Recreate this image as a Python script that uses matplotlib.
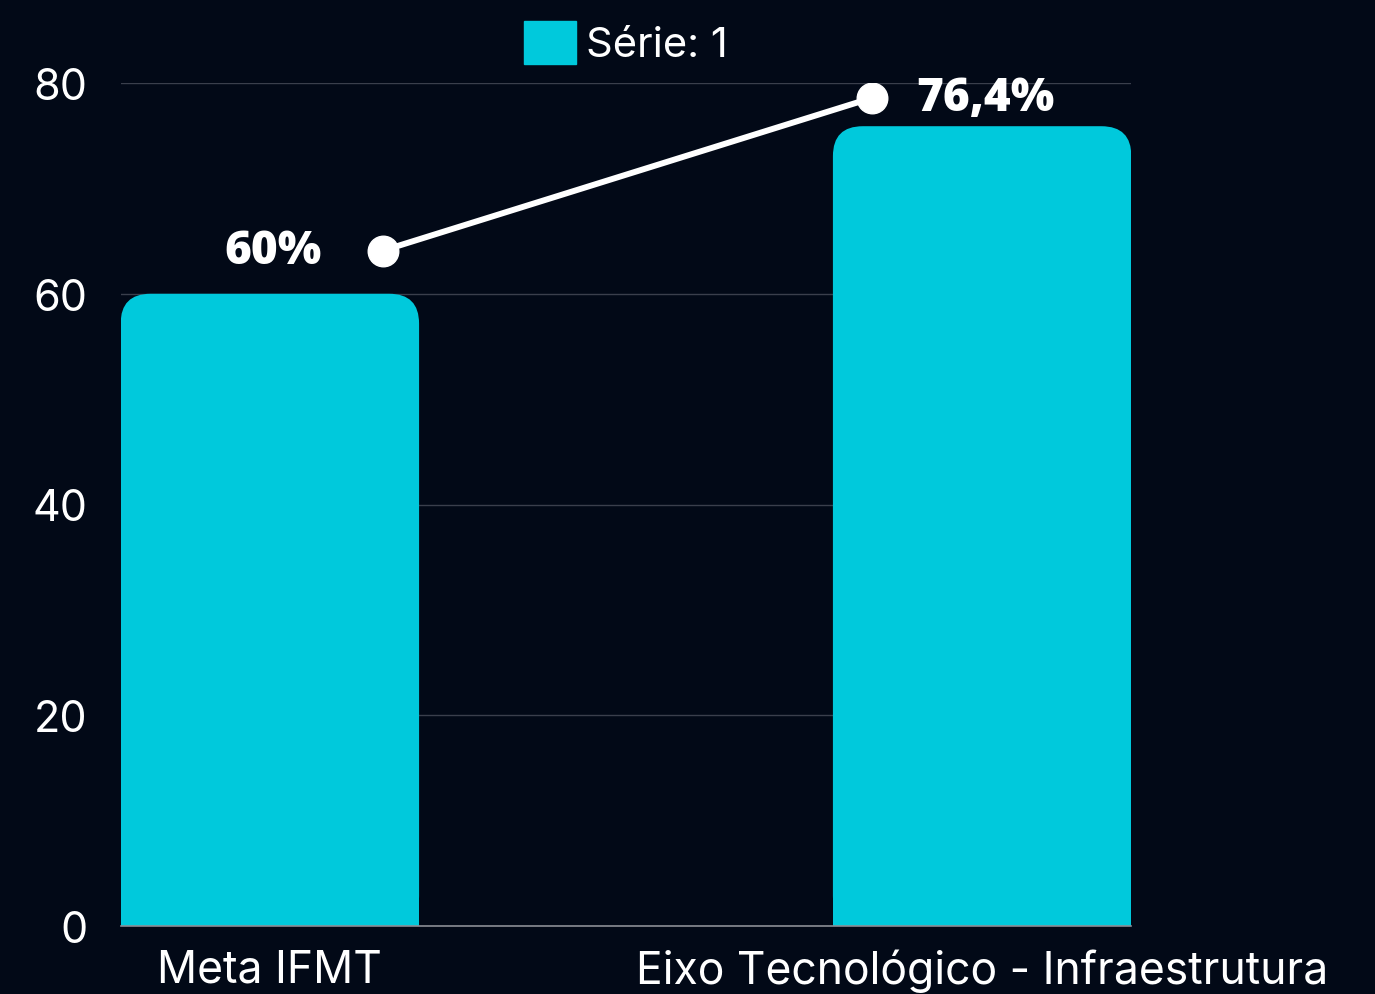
import matplotlib
matplotlib.use("Agg")
from matplotlib import pyplot as plt
from matplotlib.patches import FancyBboxPatch, Rectangle, Patch

categories = ["Meta IFMT", "Eixo Tecnológico - Infraestrutura"]
bar_values = [60, 75.9]
line_values = [64.1, 78.6]
line_offsets = [0.159, -0.154]
labels = ["60%", "76,4%"]
series_name = "Série: 1"

bg = "#020917"
cyan = "#00C9DC"

plt.rcParams['font.family'] = ['Inter', 'DejaVu Sans']

fig = plt.figure(figsize=(13.75, 9.95), dpi=100, facecolor=bg)
ax = fig.add_axes([121 / 1375, 1 - 927 / 995, 1010 / 1375, (927 - 84) / 995])
ax.set_facecolor(bg)

x = list(range(len(categories)))
width = 0.419
ax.set_xlim(-0.209, 1.209)
ax.set_ylim(0, 80)

bars = ax.bar(x, bar_values, width=width, color=cyan, zorder=2)
# swap the plain bars for ones with rounded tops
rx = 0.042
aspect = 67.6
for b in bars:
    bx, bw, bh = b.get_x(), b.get_width(), b.get_height()
    b.set_visible(False)
    ax.add_patch(FancyBboxPatch((bx, 0), bw, bh,
                                boxstyle=f"round,pad=0,rounding_size={rx}",
                                mutation_aspect=aspect, fc=cyan, ec="none", zorder=2))
    ax.add_patch(Rectangle((bx, 0), bw, bh / 2, fc=cyan, ec="none", zorder=2))

lx = [xi + o for xi, o in zip(x, line_offsets)]
ax.plot(lx, line_values, color="white", lw=4.3, marker="o", ms=22,
        solid_capstyle="round", zorder=4)

for xi, yv, t in zip(x, line_values, labels):
    ax.text(xi + 0.004, yv, t, ha="center", va="center", color="white", fontsize=33,
            fontweight=800, family=["Open Sans", "DejaVu Sans"], zorder=5)

ax.set_yticks([0, 20, 40, 60, 80])
ax.set_xticks(x)
ax.set_xticklabels(categories)
ax.tick_params(axis="y", length=0, pad=24, labelsize=31, colors="white")
ax.tick_params(axis="x", length=0, pad=16, labelsize=32, colors="white")
ax.grid(axis="y", color="#3a3f4c", lw=1, zorder=0)
ax.set_axisbelow(True)
for s in ["top", "right", "left"]:
    ax.spines[s].set_visible(False)
ax.spines["bottom"].set_color("#8a8d94")
ax.spines["bottom"].set_linewidth(1.2)

ax.legend(handles=[Patch(color=cyan, label=series_name)], loc="lower center",
          bbox_to_anchor=(0.5, 1.0), frameon=False, fontsize=30, labelcolor="white",
          handlelength=1.25, handleheight=1.2, handletextpad=0.25, borderaxespad=0.05)

fig.savefig("out.png", dpi=100, facecolor=bg)
